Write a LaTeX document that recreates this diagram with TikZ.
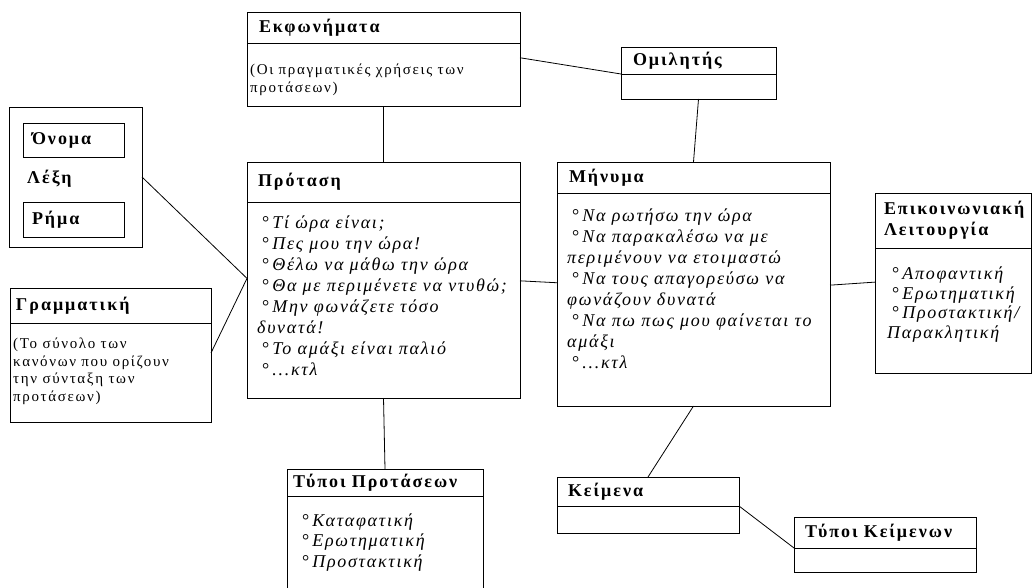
\documentclass[tikz,border=0pt]{standalone}
\usepackage{fontspec}
\setmainfont{Liberation Serif}[LetterSpace=11]
\newfontfamily\itemfamily{Liberation Serif}[LetterSpace=9.5]
\usepackage{tikz}
\newcommand{\bul}{\hspace*{5pt}{\upshape °}\,}

\begin{document}
\begin{tikzpicture}[
  x=1pt, y=-1pt,
  box/.style={draw, line width=1pt, anchor=north west, inner sep=0pt, outer sep=0pt},
  head/.style={box, font=\bfseries\fontsize{18}{21}\selectfont, inner xsep=12pt, align=left},
  body/.style={box},
  desc/.style={anchor=north west, inner sep=0pt, align=left, font=\fontsize{15}{17.5}\selectfont},
  items/.style={anchor=north west, inner sep=0pt, align=left, font=\itemfamily\itshape\fontsize{18}{21}\selectfont},
  link/.style={line width=0.8pt}
]
\fill[white] (0,0) rectangle (1033,587);
\useasboundingbox (0,0) rectangle (1033,587);

% Top row
\node[head, minimum width=273pt, text width=249pt, minimum height=31pt] (ekf) at (247,12) {Εκφωνήματα};
\node[body, minimum width=273pt, minimum height=63pt] (ekfb) at (ekf.south west) {};
\node[desc] (ekft) at ([shift={(3pt,-21pt)}]ekfb.north west) {(Οι πραγματικές χρήσεις των\\προτάσεων)};

\node[head, minimum width=155pt, text width=131pt, minimum height=27pt] (omi) at (621,47) {Ομιλητής};
\node[body, minimum width=155pt, minimum height=25pt] (omib) at (omi.south west) {};

% Left side
\node[box, minimum width=133pt, minimum height=140pt] (lexi) at (9,107) {};
\node[head, minimum width=101pt, text width=83pt, minimum height=34pt, inner xsep=9pt] (onom) at (23,123) {Όνομα};
\node[anchor=base west, inner sep=0pt, font=\bfseries\fontsize{18}{21}\selectfont] (lexl) at (27,183) {Λέξη};
\node[head, minimum width=101pt, text width=83pt, minimum height=35pt, inner xsep=9pt] (rima) at (23,202) {Ρήμα};

\node[head, minimum width=201pt, text width=189pt, minimum height=35pt, inner xsep=6pt] (gram) at (10,288) {Γραμματική};
\node[body, minimum width=201pt, minimum height=99pt] (gramb) at (gram.south west) {};
\node[desc] (gramt) at ([shift={(3pt,-15pt)}]gramb.north west) {(Το σύνολο των\\κανόνων που ορίζουν\\την σύνταξη των\\προτάσεων)};

% Middle row
\node[head, minimum width=273pt, text width=251pt, minimum height=40pt, inner xsep=11pt] (prot) at (247,162) {Πρόταση};
\node[body, minimum width=273pt, minimum height=196pt] (protb) at (prot.south west) {};
\node[items] (protl) at ([shift={(10pt,-13.5pt)}]protb.north west) {\bul Τί ώρα είναι;\\\bul Πες μου την ώρα!\\\bul Θέλω να μάθω την ώρα\\\bul Θα με περιμένετε να ντυθώ;\\\bul Μην φωνάζετε τόσο\\δυνατά!\\\bul Το αμάξι είναι παλιό\\\bul ...κτλ};

\node[head, minimum width=273pt, text width=249pt, minimum height=31pt] (min) at (557,162) {Μήνυμα};
\node[body, minimum width=273pt, minimum height=213pt] (minb) at (min.south west) {};
\node[items] (minl) at ([shift={(10pt,-15.5pt)}]minb.north west) {\bul Να ρωτήσω την ώρα\\\bul Να παρακαλέσω να με\\περιμένουν να ετοιμαστώ\\\bul Να τους απαγορεύσω να\\φωνάζουν δυνατά\\\bul Να πω πως μου φαίνεται το\\αμάξι\\\bul ...κτλ};

\node[head, minimum width=156pt, text width=138pt, minimum height=55pt, inner xsep=9pt] (epi) at (875,193) {Επικοινωνιακή\\Λειτουργία};
\node[body, minimum width=156pt, minimum height=125pt] (epib) at (epi.south west) {};
\node[items, font=\itemfamily\itshape\fontsize{18}{19.7}\selectfont] (epil) at ([shift={(12pt,-18.5pt)}]epib.north west) {\bul Αποφαντική\\\bul Ερωτηματική\\\bul Προστακτική/\\Παρακλητική};

% Bottom row
\node[head, minimum width=196pt, text width=184pt, minimum height=27pt, inner xsep=6pt] (tpr) at (287,469) {Τύποι Προτάσεων};
\node[body, minimum width=196pt, minimum height=96pt] (tprb) at (tpr.south west) {};
\node[items, font=\itemfamily\itshape\fontsize{18}{20.5}\selectfont] (tprl) at ([shift={(10pt,-17.5pt)}]tprb.north west) {\bul Καταφατική\\\bul Ερωτηματική\\\bul Προστακτική};

\node[head, minimum width=182pt, text width=160pt, minimum height=29pt, inner xsep=11pt] (kei) at (557,477) {Κείμενα};
\node[body, minimum width=182pt, minimum height=27pt] (keib) at (kei.south west) {};

\node[head, minimum width=182pt, text width=160pt, minimum height=31pt, inner xsep=11pt] (tke) at (794,517) {Τύποι Κείμενων};
\node[body, minimum width=182pt, minimum height=24pt] (tkeb) at (tke.south west) {};

% Connectors
\draw[link] (ekfb.7.3) -- (omi.south west);
\draw[link] (ekfb.south) -- (prot.north);
\draw[link] (omib.south) -- (min.north);
\draw[link] (lexi.east) -- (protb.171.7);
\draw[link] (gramb.11) -- (protb.171.7);
\draw[link] (protb.8.3) -- (minb.173.1);
\draw[link] (minb.6.9) -- (epib.160.6);
\draw[link] (protb.south) -- (tpr.north);
\draw[link] (minb.south) -- (kei.north);
\draw[link] (kei.south east) -- (tke.south west);

\end{tikzpicture}
\end{document}
